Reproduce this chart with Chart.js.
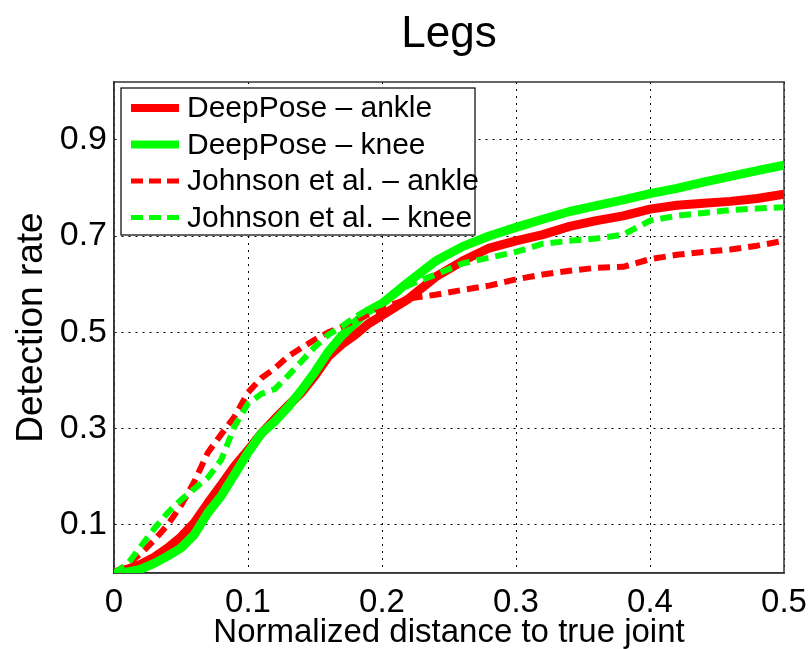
<!DOCTYPE html>
<html>
<head>
<meta charset="utf-8">
<script src="https://cdn.jsdelivr.net/npm/chart.js@4.4.0/dist/chart.umd.min.js"></script>
<style>
  html, body { margin: 0; padding: 0; background: #fff; }
  canvas { display: block; }
</style>
</head>
<body>
<canvas id="myChart" width="810" height="649"></canvas>
<script>
// normalized distance to true joint (x)
const distances = [0, 0.01, 0.02, 0.03, 0.04, 0.05, 0.06, 0.07, 0.08, 0.09,
  0.10, 0.11, 0.12, 0.13, 0.14, 0.15, 0.16, 0.17, 0.18, 0.19,
  0.20, 0.22, 0.24, 0.26, 0.28, 0.30, 0.32, 0.34, 0.36, 0.38,
  0.40, 0.42, 0.44, 0.46, 0.48, 0.50];

// detection rate per series
const deepPoseAnkle = [0, 0.008, 0.018, 0.033, 0.052, 0.075, 0.105, 0.145, 0.183, 0.222,
  0.255, 0.29, 0.32, 0.348, 0.375, 0.41, 0.45, 0.475, 0.495, 0.518,
  0.535, 0.57, 0.615, 0.648, 0.675, 0.69, 0.703, 0.72, 0.732, 0.742,
  0.756, 0.764, 0.768, 0.772, 0.778, 0.787];
const deepPoseKnee = [0, 0.002, 0.008, 0.02, 0.035, 0.052, 0.08, 0.125, 0.16, 0.205,
  0.25, 0.29, 0.315, 0.345, 0.38, 0.418, 0.46, 0.493, 0.52, 0.545,
  0.56, 0.605, 0.648, 0.678, 0.70, 0.718, 0.735, 0.751, 0.763, 0.775,
  0.788, 0.799, 0.812, 0.824, 0.836, 0.847];
const johnsonAnkle = [0, 0.018, 0.04, 0.068, 0.10, 0.14, 0.19, 0.25, 0.288, 0.325,
  0.375, 0.405, 0.425, 0.45, 0.468, 0.485, 0.50, 0.512, 0.525, 0.537,
  0.55, 0.57, 0.578, 0.588, 0.597, 0.61, 0.62, 0.628, 0.634, 0.636,
  0.652, 0.661, 0.667, 0.672, 0.68, 0.69];
const johnsonKnee = [0, 0.018, 0.055, 0.092, 0.125, 0.152, 0.175, 0.198, 0.235, 0.305,
  0.352, 0.372, 0.382, 0.41, 0.44, 0.47, 0.495, 0.512, 0.532, 0.548,
  0.558, 0.598, 0.62, 0.643, 0.655, 0.667, 0.684, 0.69, 0.695, 0.703,
  0.732, 0.742, 0.748, 0.754, 0.757, 0.76];

const seriesLabels = ["DeepPose – ankle", "DeepPose – knee", "Johnson et al. – ankle", "Johnson et al. – knee"];
const xTicks = [0, 0.1, 0.2, 0.3, 0.4, 0.5];
const yTicks = [0.1, 0.3, 0.5, 0.7, 0.9];

const FONT = '"Liberation Sans", Arial, sans-serif';
Chart.defaults.font.family = FONT;
Chart.defaults.color = '#000';

function pts(ys) {
  return distances.map((x, i) => ({ x: x, y: ys[i] }));
}

// axes frame (top/right side too)
const frame = {
  id: 'frame',
  beforeDatasetsDraw(chart) {
    const a = chart.chartArea, ctx = chart.ctx;
    ctx.save();
    ctx.strokeStyle = '#333';
    ctx.lineWidth = 1.5;
    ctx.strokeRect(a.left, a.top, a.right - a.left, a.bottom - a.top);
    ctx.restore();
  }
};

// legend box inside the axes, top left
const boxLegend = {
  id: 'boxLegend',
  afterDatasetsDraw(chart) {
    const a = chart.chartArea, ctx = chart.ctx;
    const x0 = a.left + 7, y0 = a.top + 6, w = 354, h = 147;
    ctx.save();
    ctx.fillStyle = '#fff';
    ctx.fillRect(x0, y0, w, h);
    ctx.strokeStyle = '#000';
    ctx.lineWidth = 1.2;
    ctx.strokeRect(x0, y0, w, h);
    chart.data.datasets.forEach((ds, i) => {
      const y = y0 + 20 + i * 36.5;
      const dashed = ds.borderDash.length > 0;
      ctx.beginPath();
      ctx.setLineDash(dashed ? [12, 6] : []);
      ctx.lineWidth = dashed ? 5 : 8;
      ctx.strokeStyle = ds.borderColor;
      ctx.moveTo(x0 + 10, y);
      ctx.lineTo(x0 + 58, y);
      ctx.stroke();
      ctx.setLineDash([]);
      ctx.fillStyle = '#000';
      ctx.font = '30px ' + FONT;
      ctx.textBaseline = 'middle';
      ctx.fillText(ds.label, x0 + 66, y + 1);
    });
    ctx.restore();
  }
};

const config = {
  type: 'line',
  data: {
    datasets: [
      { label: seriesLabels[0], data: pts(deepPoseAnkle), borderColor: '#ff0000', borderWidth: 9, borderDash: [], order: 4 },
      { label: seriesLabels[1], data: pts(deepPoseKnee), borderColor: '#00ff00', borderWidth: 9, borderDash: [], order: 3 },
      { label: seriesLabels[2], data: pts(johnsonAnkle), borderColor: '#ff0000', borderWidth: 6, borderDash: [12, 7], order: 2 },
      { label: seriesLabels[3], data: pts(johnsonKnee), borderColor: '#00ff00', borderWidth: 6, borderDash: [12, 7], order: 1 }
    ]
  },
  options: {
    responsive: false,
    animation: false,
    layout: { padding: { left: 0, right: 26, top: 0, bottom: 0 } },
    elements: {
      point: { radius: 0 },
      line: { tension: 0, borderJoinStyle: 'round', fill: false }
    },
    plugins: {
      legend: { display: false },
      tooltip: { enabled: false },
      title: {
        display: true,
        text: 'Legs',
        fullSize: false,
        font: { size: 44, weight: 'normal' },
        color: '#000',
        padding: { top: 8, bottom: 21.2 }
      }
    },
    scales: {
      x: {
        type: 'linear',
        min: 0,
        max: 0.5,
        afterBuildTicks: (s) => { s.ticks = xTicks.map(v => ({ value: v })); },
        afterFit: (s) => { s.height = 76; s.paddingLeft = 0; s.paddingRight = 0; },
        ticks: {
          autoSkip: false,
          padding: 10,
          font: { size: 33 },
          callback: (v) => v === 0 ? '0' : v.toFixed(1)
        },
        grid: { color: '#000', lineWidth: 1, drawTicks: false },
        border: { display: true, color: '#333', width: 1.5, dash: [2, 5] },
        title: {
          display: true,
          text: 'Normalized distance to true joint',
          font: { size: 33, lineHeight: 1 },
          padding: { top: 0, bottom: 0 }
        }
      },
      y: {
        type: 'linear',
        min: 0,
        max: 1.02,
        afterBuildTicks: (s) => { s.ticks = yTicks.map(v => ({ value: v })); },
        afterFit: (s) => { s.width = 114; },
        ticks: {
          autoSkip: false,
          padding: 7,
          font: { size: 34 },
          callback: (v) => v.toFixed(1)
        },
        grid: { color: '#000', lineWidth: 1, drawTicks: false },
        border: { display: true, color: '#333', width: 1.5, dash: [2, 5] },
        title: {
          display: true,
          text: 'Detection rate',
          font: { size: 37 },
          padding: { top: 10, bottom: 0 }
        }
      }
    }
  },
  plugins: [frame, boxLegend]
};

window.addEventListener('load', function () {
  const ctx = document.getElementById('myChart').getContext('2d');
  new Chart(ctx, config);
}, false);
</script>
</body>
</html>
